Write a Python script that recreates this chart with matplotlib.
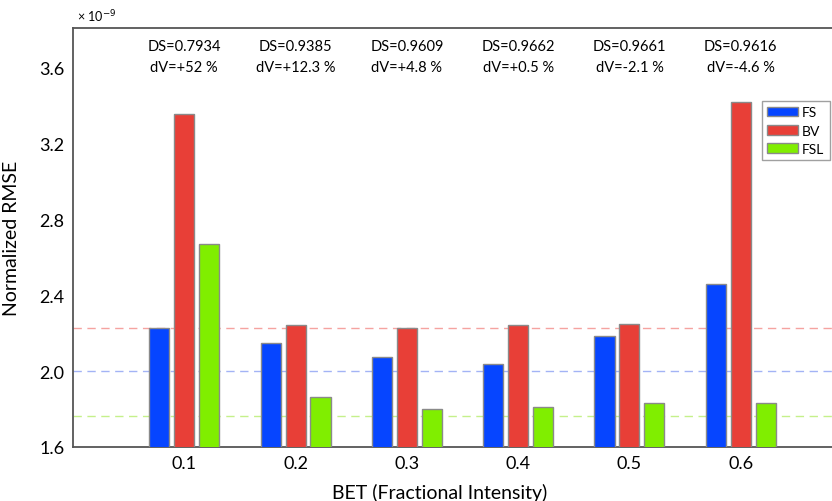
import matplotlib.pyplot as plt
import numpy as np

plt.rcParams['font.family'] = ['Lato', 'DejaVu Sans']

bet = [0.1, 0.2, 0.3, 0.4, 0.5, 0.6]
fs = [2.226, 2.147, 2.072, 2.038, 2.184, 2.458]
bv = [3.357, 2.242, 2.226, 2.246, 2.251, 3.420]
fsl = [2.668, 1.863, 1.800, 1.812, 1.830, 1.833]
ds = ['0.7934', '0.9385', '0.9609', '0.9662', '0.9661', '0.9616']
dv = ['+52', '+12.3', '+4.8', '+0.5', '-2.1', '-4.6']
ref_lines = [2.226, 2.0, 1.765]

fig = plt.figure(figsize=(8.32, 5.02), dpi=100)
ax = fig.add_axes([0.0877, 0.1076, 0.9123, 0.8347])

x = np.array(bet)
w = 0.018
step = 0.0224
edge = '#8a8a8a'
ax.bar(x - step, fs, width=w, color='#0645ff', edgecolor=edge, linewidth=1, label='FS', zorder=3)
ax.bar(x, bv, width=w, color='#e83f37', edgecolor=edge, linewidth=1, label='BV', zorder=3)
ax.bar(x + step, fsl, width=w, color='#80ee00', edgecolor=edge, linewidth=1, label='FSL', zorder=3)

for y, c in zip(ref_lines, ['#f5a3a0', '#a3b3f5', '#c5f08a']):
  ax.axhline(y, color=c, linestyle=(0, (6, 4)), linewidth=1, zorder=1)

for xi, d, v in zip(bet, ds, dv):
  ax.text(xi, 3.715, 'DS=' + d, ha='center', va='center', fontsize=10.5)
  ax.text(xi, 3.605, 'dV=' + v + ' %', ha='center', va='center', fontsize=10.5)

ax.set_xlim(0, 0.682)
ax.set_ylim(1.6, 3.81)
ax.set_xticks(bet)
ax.set_xticklabels(['%.1f' % b for b in bet], fontsize=13)
ax.set_yticks([1.6, 2.0, 2.4, 2.8, 3.2, 3.6])
ax.set_yticklabels(['1.6', '2.0', '2.4', '2.8', '3.2', '3.6'], fontsize=13)
ax.tick_params(length=0, pad=6)

for s in ['left', 'top', 'bottom']:
  ax.spines[s].set_color('#555555')
  ax.spines[s].set_linewidth(1.3)
ax.spines['right'].set_visible(False)

ax.set_xlabel('BET (Fractional Intensity)', fontsize=14)
ax.xaxis.set_label_coords(0.4835, -0.085)
ax.set_ylabel('Normalized RMSE', fontsize=14)
ax.yaxis.set_label_coords(-0.07, 0.5)
ax.text(0.005, 1.01, '× 10$^{-9}$', transform=ax.transAxes, fontsize=9, va='bottom')

leg = ax.legend(loc='upper right', bbox_to_anchor=(0.997, 0.826), fontsize=10,
                fancybox=False, edgecolor='#888888', handlelength=2.2, handleheight=0.7,
                borderpad=0.4, labelspacing=0.45, handletextpad=0.3, borderaxespad=0)
leg.get_frame().set_linewidth(1)

fig.savefig('out.png', dpi=100)
